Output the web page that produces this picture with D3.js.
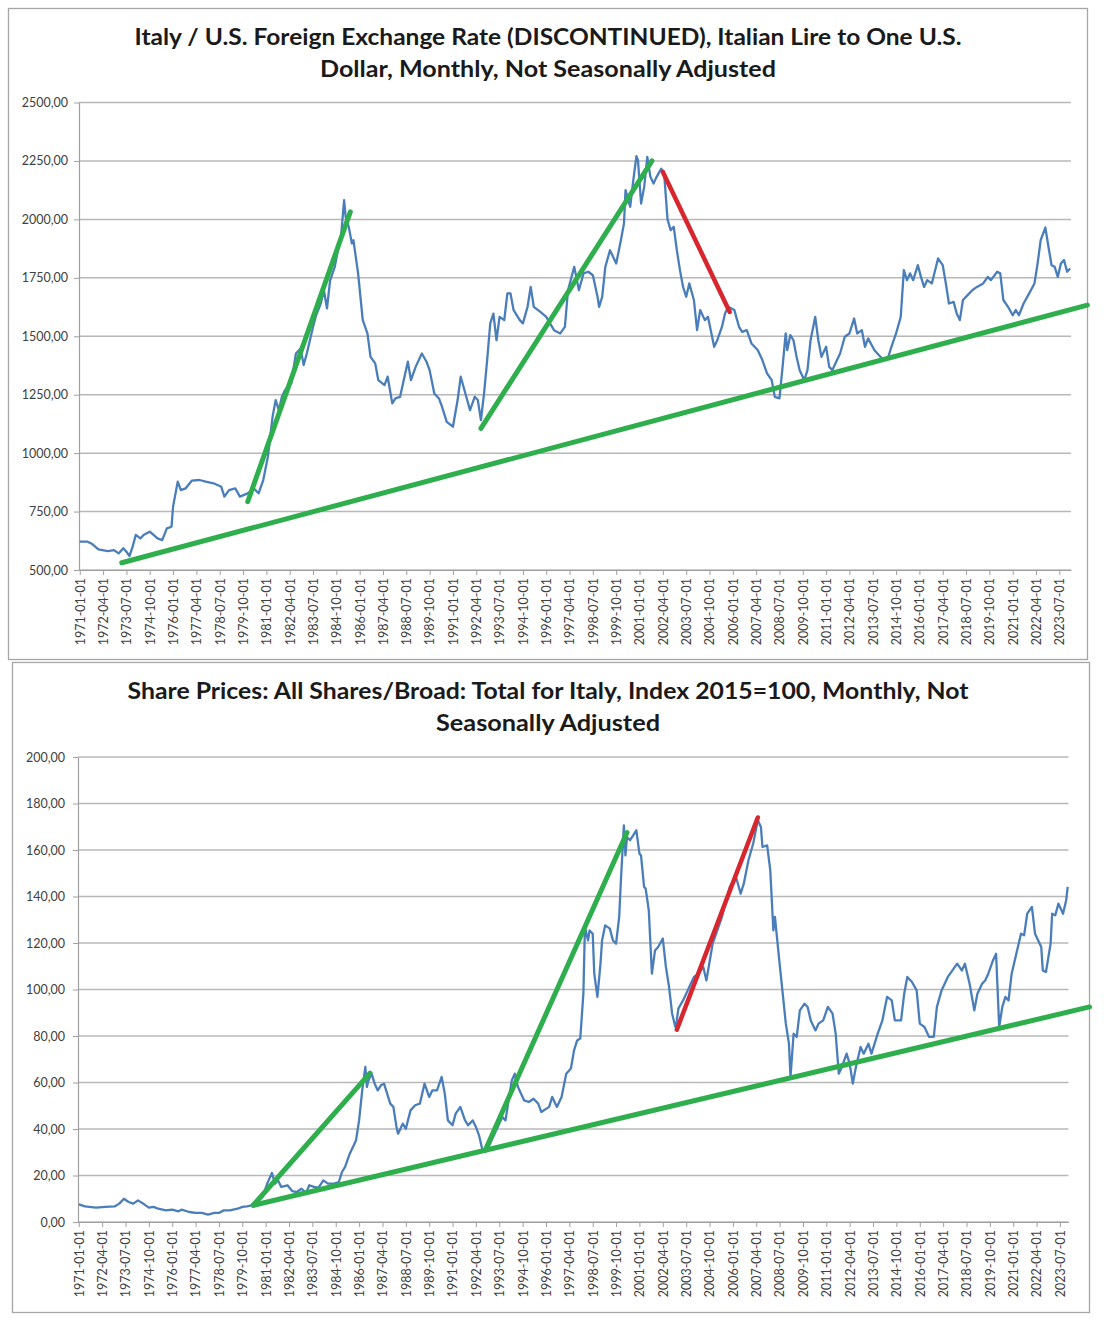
<!DOCTYPE html>
<html><head><meta charset="utf-8">
<script src="https://cdn.jsdelivr.net/npm/d3@7"></script>
<style>
html,body{margin:0;padding:0;background:#fff;}
svg{display:block;}
.axis text{font-family:Lato,"DejaVu Sans",sans-serif;font-size:12.5px;fill:#404040;}
</style></head><body>
<svg id="chart" width="1104" height="1328"></svg>
<script>
// ---------- DATA ----------
const fxTitle = ["Italy / U.S. Foreign Exchange Rate (DISCONTINUED), Italian Lire to One U.S.", "Dollar, Monthly, Not Seasonally Adjusted"];
const spTitle = ["Share Prices: All Shares/Broad: Total for Italy, Index 2015=100, Monthly, Not", "Seasonally Adjusted"];

const fxCategoryRange = ["1971-01", "2024-02"];
const spCategoryRange = ["1971-01", "2023-12"];

const xTickLabels = ["1971-01-01","1972-04-01","1973-07-01","1974-10-01","1976-01-01","1977-04-01","1978-07-01","1979-10-01","1981-01-01","1982-04-01","1983-07-01","1984-10-01","1986-01-01","1987-04-01","1988-07-01","1989-10-01","1991-01-01","1992-04-01","1993-07-01","1994-10-01","1996-01-01","1997-04-01","1998-07-01","1999-10-01","2001-01-01","2002-04-01","2003-07-01","2004-10-01","2006-01-01","2007-04-01","2008-07-01","2009-10-01","2011-01-01","2012-04-01","2013-07-01","2014-10-01","2016-01-01","2017-04-01","2018-07-01","2019-10-01","2021-01-01","2022-04-01","2023-07-01"];

const fxYTicks = [500, 750, 1000, 1250, 1500, 1750, 2000, 2250, 2500];
const spYTicks = [0, 20, 40, 60, 80, 100, 120, 140, 160, 180, 200];

// Italian lire per USD (month, value)
const fxSeries = [
["1971-01",621],["1971-06",621],["1971-09",611],["1972-01",588],["1972-07",581],["1972-11",585],["1973-02",571],["1973-05",593],["1973-07",578],["1973-09",560],["1973-11",600],
["1974-01",650],["1974-04",635],["1974-06",650],["1974-10",664],["1975-03",635],["1975-06",628],["1975-09",678],["1975-12",685],["1976-01",771],["1976-04",878],["1976-06",842],["1976-09",849],
["1977-01",882],["1977-06",885],["1977-10",878],["1978-03",871],["1978-08",856],["1978-10",814],["1979-01",842],["1979-05",849],["1979-08",814],["1980-01",828],["1980-05",849],["1980-08",828],["1980-11",885],
["1981-02",985],["1981-05",1156],["1981-07",1227],["1981-09",1184],["1981-11",1241],["1982-01",1270],["1982-05",1298],["1982-08",1426],["1982-11",1448],["1983-01",1377],["1983-03",1426],["1983-07",1540],["1983-09",1590],["1983-12",1640],
["1984-02",1697],["1984-04",1619],["1984-06",1739],["1984-09",1797],["1984-11",1868],["1985-01",1925],["1985-03",2082],["1985-04",2011],["1985-06",1968],["1985-08",1897],["1985-09",1911],["1985-12",1769],
["1986-03",1569],["1986-06",1512],["1986-08",1412],["1986-11",1384],["1987-01",1312],["1987-05",1291],["1987-07",1327],["1987-10",1213],["1987-12",1234],["1988-03",1241],["1988-08",1391],["1988-10",1312],
["1989-01",1369],["1989-05",1426],["1989-08",1391],["1989-10",1355],["1990-01",1255],["1990-04",1234],["1990-06",1198],["1990-09",1134],["1991-01",1113],["1991-04",1227],["1991-06",1327],["1991-09",1255],["1991-12",1184],
["1992-03",1241],["1992-05",1227],["1992-07",1141],["1992-09",1255],["1992-11",1398],["1993-01",1555],["1993-03",1597],["1993-05",1483],["1993-07",1583],["1993-10",1569],["1993-12",1683],
["1994-02",1683],["1994-04",1612],["1994-08",1569],["1994-10",1555],["1995-01",1626],["1995-03",1711],["1995-05",1626],["1995-09",1605],["1996-01",1583],["1996-06",1526],["1996-10",1512],
["1997-01",1540],["1997-03",1697],["1997-07",1797],["1997-10",1697],["1998-01",1769],["1998-04",1776],["1998-07",1761],["1998-10",1669],["1998-11",1626],["1999-01",1669],["1999-03",1797],["1999-06",1868],["1999-08",1840],["1999-10",1811],
["2000-01",1911],["2000-03",1982],["2000-04",2125],["2000-07",2054],["2000-09",2168],["2000-11",2270],["2000-12",2253],["2001-02",2068],["2001-04",2139],["2001-06",2267],["2001-08",2182],["2001-10",2153],["2001-12",2182],
["2002-03",2217],["2002-05",2182],["2002-07",2000],["2002-09",1954],["2002-11",1968],["2003-01",1868],["2003-03",1783],["2003-05",1711],["2003-07",1669],["2003-09",1726],["2003-12",1654],
["2004-02",1526],["2004-04",1612],["2004-07",1569],["2004-09",1583],["2005-01",1455],["2005-03",1483],["2005-06",1540],["2005-08",1597],["2005-10",1626],["2006-02",1612],["2006-05",1540],["2006-07",1519],["2006-10",1526],
["2007-01",1469],["2007-05",1441],["2007-08",1398],["2007-11",1341],["2008-02",1312],["2008-04",1241],["2008-07",1234],["2008-09",1369],["2008-11",1512],["2008-12",1441],["2009-02",1505],["2009-04",1483],["2009-06",1412],["2009-08",1355],["2009-11",1312],
["2010-01",1355],["2010-03",1483],["2010-06",1583],["2010-08",1483],["2010-10",1412],["2011-01",1455],["2011-03",1369],["2011-05",1355],["2011-08",1398],["2011-10",1426],["2012-01",1498],["2012-04",1512],["2012-07",1576],["2012-09",1512],["2012-12",1526],
["2013-02",1455],["2013-04",1491],["2013-08",1441],["2013-11",1419],["2014-02",1398],["2014-05",1412],["2014-07",1455],["2014-10",1512],["2015-01",1583],["2015-03",1783],["2015-05",1740],["2015-07",1769],["2015-09",1740],["2015-12",1804],
["2016-02",1754],["2016-04",1711],["2016-06",1740],["2016-09",1726],["2017-01",1833],["2017-04",1804],["2017-06",1726],["2017-08",1640],["2017-11",1647],["2018-01",1597],["2018-03",1569],["2018-05",1655],["2018-08",1676],["2018-11",1697],
["2019-02",1711],["2019-06",1726],["2019-09",1754],["2019-11",1740],["2020-03",1776],["2020-05",1769],["2020-07",1655],["2020-10",1626],["2021-01",1590],["2021-03",1612],["2021-05",1590],["2021-08",1640],["2021-11",1676],
["2022-03",1726],["2022-05",1811],["2022-07",1911],["2022-10",1965],["2022-12",1883],["2023-02",1804],["2023-04",1797],["2023-06",1754],["2023-08",1811],["2023-10",1826],["2023-12",1776],["2024-02",1790]
];

// Share price index, 2015=100 (month, value)
const spSeries = [
["1971-01",7.6],["1971-05",6.7],["1971-12",6.2],["1972-06",6.5],["1972-12",6.7],["1973-03",7.9],["1973-06",10.0],["1973-09",8.6],["1973-12",7.9],["1974-03",9.3],["1974-07",7.6],["1974-10",6.2],
["1975-01",6.5],["1975-04",5.7],["1975-09",5.0],["1976-01",5.3],["1976-05",4.6],["1976-07",5.3],["1976-12",4.3],["1977-04",3.9],["1977-08",3.9],["1977-12",3.2],["1978-04",3.9],["1978-07",3.9],["1978-10",5.0],
["1979-02",5.0],["1979-07",5.7],["1979-10",6.5],["1980-01",6.7],["1980-04",7.2],["1980-07",8.6],["1980-11",10.8],["1981-02",16.5],["1981-05",21.1],["1981-07",16.5],["1981-09",17.9],["1981-11",15.1],
["1982-03",15.8],["1982-06",13.3],["1982-09",12.9],["1982-12",14.3],["1983-03",12.5],["1983-05",15.8],["1983-08",15.1],["1983-11",14.8],["1984-02",17.9],["1984-05",16.5],["1984-09",16.5],["1984-12",17.2],
["1985-02",21.5],["1985-04",23.7],["1985-07",29.4],["1985-11",35.1],["1986-01",43.7],["1986-03",56.6],["1986-05",66.7],["1986-06",58.1],["1986-07",60.9],["1986-09",63.8],["1986-11",59.5],
["1987-01",56.6],["1987-03",58.8],["1987-05",59.5],["1987-07",55.2],["1987-09",50.9],["1987-11",49.5],["1988-01",40.9],["1988-02",38.0],["1988-05",42.3],["1988-07",40.1],["1988-10",48.0],
["1989-01",50.2],["1989-04",50.9],["1989-07",59.5],["1989-10",53.8],["1989-12",56.6],["1990-03",56.6],["1990-06",62.4],["1990-08",55.2],["1990-10",43.7],["1991-01",41.6],["1991-03",46.6],["1991-06",49.5],["1991-09",43.7],["1991-11",41.6],
["1992-02",43.7],["1992-04",40.9],["1992-06",37.3],["1992-08",31.5],["1992-11",30.8],["1993-02",35.1],["1993-06",40.9],["1993-09",45.2],["1993-11",43.7],["1994-01",52.3],["1994-03",60.9],["1994-05",63.8],["1994-07",58.1],["1994-11",52.3],
["1995-02",51.6],["1995-05",53.0],["1995-08",50.9],["1995-10",47.3],["1996-03",49.5],["1996-05",53.8],["1996-08",49.5],["1996-11",53.8],["1997-02",63.8],["1997-05",66.0],["1997-07",73.8],["1997-09",78.1],["1997-11",78.9],
["1998-01",98.2],["1998-02",126.9],["1998-04",121.1],["1998-05",125.4],["1998-07",124.0],["1998-08",106.8],["1998-10",96.8],["1998-12",111.1],["1999-01",121.1],["1999-03",127.6],["1999-06",126.2],["1999-08",121.1],["1999-10",119.7],["1999-12",131.2],
["2000-01",145.5],["2000-03",170.6],["2000-04",157.7],["2000-05",165.6],["2000-07",164.2],["2000-09",166.3],["2000-11",168.5],["2001-01",158.4],["2001-02",157.7],["2001-04",144.1],["2001-05",143.4],["2001-07",134.1],["2001-09",106.8],["2001-11",116.8],
["2002-01",118.3],["2002-04",121.9],["2002-06",109.7],["2002-08",101.1],["2002-10",89.6],["2002-12",84.0],["2003-01",86.7],["2003-02",91.8],["2003-05",95.3],["2003-09",101.1],["2003-12",105.4],
["2004-03",106.8],["2004-06",109.7],["2004-08",103.9],["2004-12",119.7],["2005-03",125.4],["2005-06",131.2],["2005-08",136.9],["2005-11",144.1],["2006-03",148.4],["2006-06",141.2],["2006-08",145.5],["2006-11",155.6],
["2007-02",162.7],["2007-05",172.8],["2007-07",169.9],["2007-08",161.3],["2007-11",162.0],["2008-01",151.3],["2008-03",125.4],["2008-04",131.2],["2008-07",111.1],["2008-09",98.2],["2008-11",85.3],
["2009-01",76.7],["2009-02",62.4],["2009-04",81.0],["2009-06",79.6],["2009-08",91.0],["2009-11",93.9],["2010-01",92.5],["2010-03",86.7],["2010-06",82.4],["2010-08",85.3],["2010-11",86.7],
["2011-02",92.5],["2011-05",89.6],["2011-07",81.0],["2011-09",63.8],["2011-11",66.7],["2012-02",72.4],["2012-04",68.1],["2012-06",59.5],["2012-08",66.7],["2012-11",75.3],
["2013-01",72.4],["2013-04",76.7],["2013-06",72.4],["2013-10",81.0],["2014-01",86.7],["2014-04",96.8],["2014-07",95.3],["2014-09",86.7],["2015-01",86.7],["2015-03",98.2],["2015-05",105.4],["2015-08",103.2],["2015-11",99.6],
["2016-01",85.3],["2016-04",83.9],["2016-07",79.6],["2016-10",79.6],["2016-12",92.5],["2017-03",99.6],["2017-07",105.4],["2017-10",108.2],["2018-01",111.1],["2018-04",108.2],["2018-06",111.1],["2018-09",102.5],["2018-12",91.0],
["2019-02",98.2],["2019-05",102.5],["2019-07",103.9],["2019-09",106.8],["2019-12",112.5],["2020-02",115.4],["2020-04",83.9],["2020-06",92.5],["2020-08",96.8],["2020-10",95.3],["2020-12",106.8],
["2021-03",115.4],["2021-06",124.0],["2021-08",123.3],["2021-10",132.6],["2022-01",135.5],["2022-03",124.0],["2022-07",118.3],["2022-08",108.2],["2022-10",107.5],
["2023-01",119.7],["2023-02",132.6],["2023-04",131.9],["2023-06",136.9],["2023-08",134.1],["2023-09",132.6],["2023-11",138.4],["2023-12",144.1]
];

// Hand-drawn trend lines (month, value) at their end points
const fxGreenLines = [
  [["1973-04",531],["2025-01",1633]],
  [["1980-01",792],["1985-07",2032]],
  [["1992-07",1106],["2001-09",2250]]
];
const fxRedLines = [
  [["2002-04",2203],["2005-11",1604]]
];
const spGreenLines = [
  [["1980-05",7.2],["2025-02",92.5]],
  [["1980-05",7.2],["1986-08",64.0]],
  [["1992-10",30.9],["2000-05",167.5]]
];
const spRedLines = [
  [["2003-01",82.7],["2007-05",174.0]]
];

// ---------- DRAWING ----------
const svg = d3.select("#chart");
function mi(s){ const p = s.split("-").map(Number); return (p[0]-1971)*12 + (p[1]-1); }
function yFmt(v){ return d3.format(".2f")(v).replace(".", ","); }

function drawChart(cfg){
  const g = svg.append("g");
  const f = cfg.frame;
  g.append("rect").attr("x", f[0]+0.5).attr("y", f[1]+0.5)
    .attr("width", f[2]-f[0]-1).attr("height", f[3]-f[1]-1)
    .attr("fill", "#fff").attr("stroke", "#a6a6a6").attr("stroke-width", 1.3);

  cfg.title.forEach((t, k) => {
    g.append("text").attr("x", 548).attr("y", cfg.titleY[k])
      .attr("text-anchor", "middle")
      .attr("font-family", "Lato, 'DejaVu Sans', sans-serif")
      .attr("font-weight", 700).attr("font-size", 22).attr("fill", "#1a1a1a")
      .attr("textLength", cfg.titleW[k]).attr("lengthAdjust", "spacingAndGlyphs")
      .text(t);
  });

  const start = mi(cfg.range[0]);
  const n = mi(cfg.range[1]) - start + 1;
  const x = d3.scaleLinear().domain([-0.5, n - 0.5]).range([cfg.left, cfg.right]);
  const y = d3.scaleLinear().domain([cfg.yTicks[0], cfg.yTicks[cfg.yTicks.length-1]]).range([cfg.bottom, cfg.top]);

  // gridlines
  g.append("g").selectAll("line").data(cfg.yTicks).join("line")
    .attr("x1", cfg.left).attr("x2", cfg.right)
    .attr("y1", d => y(d)).attr("y2", d => y(d))
    .attr("stroke", "#b8b8b8").attr("stroke-width", 1.5);

  // y axis
  const ya = g.append("g").attr("class", "axis").attr("transform", `translate(${cfg.left},0)`)
    .call(d3.axisLeft(y).tickValues(cfg.yTicks).tickSize(5).tickSizeOuter(0).tickPadding(cfg.yPad).tickFormat(yFmt));
  ya.select(".domain").attr("stroke", "#a0a0a0").attr("stroke-width", 1.2);
  ya.selectAll(".tick line").attr("stroke", "#a0a0a0");

  // x axis
  const tickIdx = xTickLabels.map(s => mi(s.slice(0, 7)) - start);
  const xa = g.append("g").attr("class", "axis").attr("transform", `translate(0,${cfg.bottom})`)
    .call(d3.axisBottom(x).tickValues(tickIdx).tickSize(5).tickSizeOuter(0)
      .tickFormat((d, i) => xTickLabels[i]));
  xa.select(".domain").attr("stroke", "#a0a0a0").attr("stroke-width", 1.2);
  xa.selectAll(".tick line").attr("stroke", "#a0a0a0");
  xa.selectAll(".tick text")
    .attr("transform", "rotate(-90)")
    .attr("x", -8).attr("y", 0).attr("dy", "0.35em")
    .attr("text-anchor", "end");

  // series
  const line = d3.line().x(d => x(mi(d[0]) - start)).y(d => y(d[1]));
  g.append("path").datum(cfg.series).attr("d", line)
    .attr("fill", "none").attr("stroke", "#4a7ebb").attr("stroke-width", 2.3)
    .attr("stroke-linejoin", "round");

  // trend lines
  cfg.green.forEach(seg => {
    g.append("path").datum(seg).attr("d", line).attr("fill", "none")
      .attr("stroke", "#2fae4e").attr("stroke-width", 5).attr("stroke-linecap", "round");
  });
  cfg.red.forEach(seg => {
    g.append("path").datum(seg).attr("d", line).attr("fill", "none")
      .attr("stroke", "#d8262e").attr("stroke-width", 4.5).attr("stroke-linecap", "round");
  });
}

drawChart({
  frame: [8, 8, 1088, 660],
  title: fxTitle, titleY: [45, 77], titleW: [827, 456],
  range: fxCategoryRange, left: 79, right: 1071, top: 102.5, bottom: 570,
  yTicks: fxYTicks, yPad: 6,
  series: fxSeries, green: fxGreenLines, red: fxRedLines
});
drawChart({
  frame: [12, 662, 1090, 1313],
  title: spTitle, titleY: [699, 731], titleW: [841, 224],
  range: spCategoryRange, left: 78, right: 1068.5, top: 757, bottom: 1222,
  yTicks: spYTicks, yPad: 8,
  series: spSeries, green: spGreenLines, red: spRedLines
});
</script>
</body></html>
